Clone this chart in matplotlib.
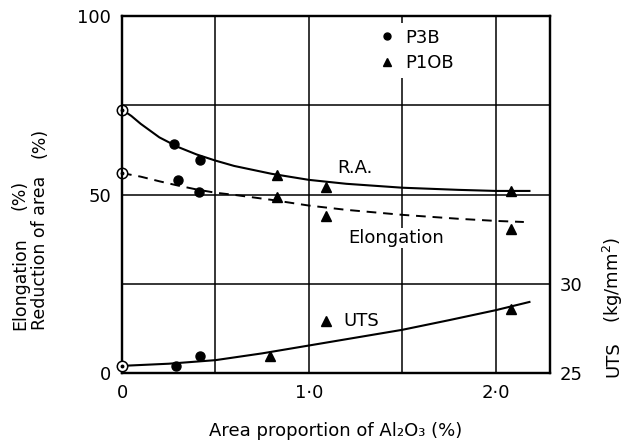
import numpy as np
import matplotlib
matplotlib.use('Agg')
import matplotlib.pyplot as plt
from matplotlib.lines import Line2D

# fitted curves (x = area proportion of Al2O3, %)
ra_x = [0, 0.05, 0.1, 0.2, 0.3, 0.4, 0.5, 0.6, 0.8, 1.0, 1.2, 1.5, 1.8, 2.0, 2.18]
ra_y = [73.8, 72.0, 69.8, 66.0, 63.3, 61.2, 59.5, 58.0, 55.8, 54.1, 53.0, 51.9, 51.3, 51.0, 51.0]

el_x = [0, 0.1, 0.2, 0.3, 0.4, 0.5, 0.6, 0.8, 1.0, 1.2, 1.5, 1.8, 2.0, 2.15]
el_y = [56.0, 55.0, 53.7, 52.5, 51.4, 50.5, 49.9, 48.5, 46.9, 45.7, 44.3, 43.2, 42.6, 42.3]

uts_x = [0, 0.25, 0.5, 0.75, 1.0, 1.25, 1.5, 1.75, 2.0, 2.18]
uts_y = [25.4, 25.52, 25.72, 26.1, 26.54, 26.98, 27.42, 27.96, 28.52, 28.98]

# measured points
base_ra = 73.8
base_el = 56.0
base_uts = 25.4

p3b_x_ra = [0.28, 0.42]
p3b_ra = [64.2, 59.7]
p10b_x_ra = [0.83, 1.09, 2.08]
p10b_ra = [55.5, 52.1, 51.1]

p3b_x_el = [0.30, 0.41]
p3b_el = [54.0, 50.8]
p10b_x_el = [0.83, 1.09, 2.08]
p10b_el = [49.2, 43.9, 40.3]

p3b_x_uts = [0.29, 0.42]
p3b_uts = [25.4, 25.97]
p10b_x_uts = [0.79, 1.09, 2.08]
p10b_uts = [25.93, 27.92, 28.6]

fs = 13
plt.rcParams['font.family'] = 'DejaVu Sans'

fig = plt.figure(figsize=(6.37, 4.41), dpi=100)
ax = fig.add_axes([122/637, 1-373/441, 428/637, 357/441])
ax2 = ax.twinx()

ax.set_xlim(0, 2.29)
ax.set_ylim(0, 100)
ax2.set_ylim(25, 45)

ax.set_xticks([0, 0.5, 1.0, 1.5, 2.0])
ax.set_xticklabels(['0', '', '1·0', '', '2·0'], fontsize=fs)
ax.set_yticks([0, 25, 50, 75, 100])
ax.set_yticklabels(['0', '', '50', '', '100'], fontsize=fs)
ax2.set_yticks([25, 30])
ax2.set_yticklabels(['25', '30'], fontsize=fs)
ax.tick_params(length=0, pad=8)
ax2.tick_params(length=0, pad=7)
ax.grid(True, color='black', lw=1.1)
ax.set_axisbelow(True)
for a in (ax, ax2):
    for s in a.spines.values():
        s.set_linewidth(1.6)

# curves
ax.plot(ra_x, ra_y, color='black', lw=1.5)
ax.plot(el_x, el_y, color='black', lw=1.4, dashes=(5, 3.5))
ax2.plot(uts_x, uts_y, color='black', lw=1.5)

ms_c = 6.5
ms_t = 7
ax.plot(p3b_x_ra, p3b_ra, 'o', color='black', ms=ms_c)
ax.plot(p10b_x_ra, p10b_ra, '^', color='black', ms=ms_t)
ax.plot(p3b_x_el, p3b_el, 'o', color='black', ms=ms_c)
ax.plot(p10b_x_el, p10b_el, '^', color='black', ms=ms_t)
ax2.plot(p3b_x_uts, p3b_uts, 'o', color='black', ms=ms_c)
ax2.plot(p10b_x_uts, p10b_uts, '^', color='black', ms=ms_t)

# unalloyed points on the axis: open circle with a dot
ax.plot([0, 0], [base_ra, base_el], 'o', mfc='white', mec='black', mew=1.1, ms=7.5, clip_on=False, zorder=5)
ax.plot([0, 0], [base_ra, base_el], 'o', color='black', ms=1.8, clip_on=False, zorder=6)
ax2.plot([0], [base_uts], 'o', mfc='white', mec='black', mew=1.1, ms=7.5, clip_on=False, zorder=5)
ax2.plot([0], [base_uts], 'o', color='black', ms=1.8, clip_on=False, zorder=6)

# curve labels
ax.text(1.246, 57.3, 'R.A.', fontsize=fs, ha='center', va='center')
ax.text(1.465, 37.8, 'Elongation', fontsize=fs, ha='center', va='center',
        bbox=dict(facecolor='white', edgecolor='none', pad=1))
ax.text(1.28, 14.7, 'UTS', fontsize=fs, ha='center', va='center')

handles = [Line2D([], [], marker='o', color='black', ls='none', ms=5),
           Line2D([], [], marker='^', color='black', ls='none', ms=5.5)]
leg = ax.legend(handles, ['P3B', 'P1OB'], loc='upper left', bbox_to_anchor=(0.568, 1.005),
                fontsize=fs, frameon=True, handlelength=0.8, handletextpad=0.6,
                borderpad=0.3, labelspacing=0.42, fancybox=False)
leg.get_frame().set_facecolor('white')
leg.get_frame().set_edgecolor('none')
leg.get_frame().set_alpha(1)

ax.set_xlabel('Area proportion of Al₂O₃ (%)', fontsize=fs, labelpad=14)

# axis titles
lfs = 12.5
fig.text(20/637, 1-330/441, 'Elongation', rotation=90, fontsize=lfs, ha='center', va='bottom')
fig.text(20/637, 1-210/441, '(%)', rotation=90, fontsize=lfs, ha='center', va='bottom')
fig.text(40/637, 1-330/441, 'Reduction of area', rotation=90, fontsize=lfs, ha='center', va='bottom')
fig.text(40/637, 1-158/441, '(%)', rotation=90, fontsize=lfs, ha='center', va='bottom')
fig.text(613/637, 1-377/441, 'UTS', rotation=90, fontsize=fs, ha='center', va='bottom')
fig.text(613/637, 1-323/441, '(kg/mm$^2$)', rotation=90, fontsize=fs, ha='center', va='bottom')

fig.savefig('out.png', dpi=100)
